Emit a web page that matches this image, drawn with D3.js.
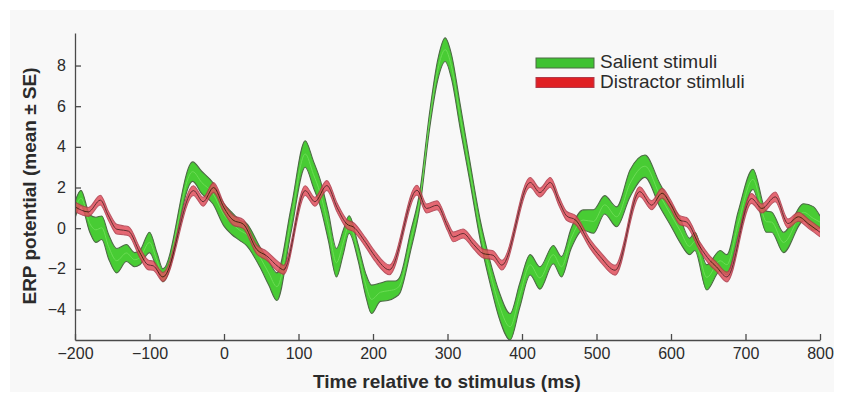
<!DOCTYPE html>
<html>
<head>
<meta charset="utf-8">
<script src="https://cdn.jsdelivr.net/npm/d3@7"></script>
<style>
  body { margin: 0; background: #fff; }
  text { font-family: "Liberation Sans", Arial, sans-serif; fill: #2b2b2b; }
</style>
</head>
<body>
<div id="main"></div>
<script>
// ERP traces (ms, microvolts)
var salientTime = [-200,-192,-180,-172,-164,-155,-144,-131,-120,-113,-100,-90,-82,-42,-30,-15,0,10,21,30,48,60,71,90,109,120,129,140,151,160,168,180,190,198,210,220,230,236,250,263,276,287,297,305,317,330,344,357,370,384,397,411,424,442,453,466,482,496,511,527,545,565,585,600,612,625,632,648,666,675,690,710,728,735,751,778,791,800];
var salientMean = [0.9,1.48,0.22,-0.08,0.02,-0.9,-1.6,-1.22,-1.55,-1.45,-0.7,-1.6,-2.32,2.78,2.25,1.72,0.65,0.25,-0.1,-0.3,-1.4,-2.2,-2.88,0.4,3.65,2.65,1.75,0.1,-1.7,-0.7,0.18,-1.2,-2.75,-3.5,-3.15,-3.08,-3.0,-2.8,-0.72,1.45,5.3,7.8,8.78,8.0,5.5,2.8,-0.1,-2.15,-3.85,-4.85,-3.3,-1.8,-2.45,-1.3,-1.9,-0.5,0.4,0.33,1.15,0.56,2.2,3.05,1.62,0.65,-0.1,-0.9,-0.65,-2.42,-1.6,-1.8,0.2,2.4,0.32,0.3,-0.7,0.78,0.48,0.3];
var salientSE = [0.4,0.38,0.43,0.62,0.58,0.6,0.6,0.42,0.35,0.35,0.5,0.4,0.32,0.48,0.55,0.52,0.55,0.55,0.5,0.55,0.5,0.6,0.68,0.6,0.65,0.65,0.65,0.7,0.7,0.6,0.43,0.4,0.55,0.7,0.45,0.48,0.4,0.4,0.48,0.4,0.4,0.5,0.58,0.6,0.6,0.5,0.5,0.55,0.65,0.65,0.6,0.5,0.55,0.45,0.5,0.5,0.5,0.58,0.45,0.49,0.66,0.55,0.58,0.55,0.6,0.4,0.45,0.62,0.5,0.5,0.6,0.5,0.52,0.5,0.5,0.42,0.58,0.3];

var distractorTime = [-200,-182,-166,-155,-144,-135,-128,-113,-102,-95,-82,-41,-28,-14,0,12,26,44,57,73,80,109,122,138,152,165,174,190,203,222,259,272,286,300,308,321,335,348,361,373,411,424,438,450,460,472,491,505,525,558,574,588,599,612,621,639,652,661,675,708,722,740,757,771,785,800];
var distractorMean = [1.05,0.8,1.38,0.6,-0.05,-0.1,-0.15,-1.2,-1.8,-1.85,-2.4,1.85,1.3,2.0,1.0,0.4,0.2,-1.05,-1.35,-1.9,-2.05,1.85,1.3,2.1,1.0,0.2,0.05,-0.7,-1.4,-2.05,1.87,0.97,1.13,0.1,-0.43,-0.26,-0.8,-1.25,-1.33,-1.82,2.25,1.75,2.25,1.3,0.6,0.4,-0.75,-1.4,-2.07,1.8,1.13,1.72,1.2,0.39,0.3,-0.92,-1.58,-1.9,-2.4,1.46,0.97,1.54,0.23,0.56,0.2,-0.2];
var distractorSE = [0.24,0.22,0.24,0.22,0.24,0.22,0.22,0.24,0.24,0.22,0.22,0.24,0.22,0.24,0.22,0.24,0.22,0.22,0.22,0.24,0.22,0.24,0.22,0.24,0.22,0.22,0.22,0.22,0.24,0.24,0.24,0.22,0.22,0.22,0.24,0.22,0.22,0.22,0.22,0.24,0.24,0.22,0.24,0.22,0.22,0.22,0.22,0.24,0.24,0.24,0.22,0.24,0.22,0.22,0.22,0.22,0.22,0.22,0.24,0.24,0.22,0.24,0.22,0.22,0.22,0.22];

var xTicks = [-200,-100,0,100,200,300,400,500,600,700,800];
var yTicks = [-4,-2,0,2,4,6,8];
var legendLabels = ["Salient stimuli", "Distractor stimluli"];

function transform(x, y) {
  return "translate(" + x + "," + y + ")";
}

// zip the parallel arrays into point objects
function zipSeries(t, m, se) {
  return t.map(function(d, i) { return { t: d, m: m[i], se: se[i] }; });
}

var series = [
  { name: legendLabels[0], pts: zipSeries(salientTime, salientMean, salientSE),
    fill: "#48cc34", edge: "#4d6a45", mid: "#6cdc55", swatch: "#3fc232", opacity: 1 },
  { name: legendLabels[1], pts: zipSeries(distractorTime, distractorMean, distractorSE),
    fill: "#e2505c", edge: "#b03a4a", mid: "#4a0c10", swatch: "#e02024", opacity: 0.85 }
];

var W = 844, H = 401;
var svg = d3.select("#main").append("svg").attr("width", W).attr("height", H);

// faint grey panel like the figure background
svg.append("rect").attr("x", 10).attr("y", 10).attr("width", 824).attr("height", 382)
  .attr("fill", "#f8f8f8");

var x = d3.scaleLinear().domain([-200, 800]).range([75, 820]);
var y = d3.scaleLinear().domain([-5.5, 9.6]).range([340, 33]);

svg.append("clipPath").attr("id", "plotclip")
  .append("rect").attr("x", 75).attr("y", 33).attr("width", 745).attr("height", 307);

var curve = d3.curveMonotoneX;
var band = d3.area().curve(curve)
  .x(function(d) { return x(d.t); })
  .y0(function(d) { return y(d.m - d.se); })
  .y1(function(d) { return y(d.m + d.se); });
var upper = d3.line().curve(curve)
  .x(function(d) { return x(d.t); })
  .y(function(d) { return y(d.m + d.se); });
var lower = d3.line().curve(curve)
  .x(function(d) { return x(d.t); })
  .y(function(d) { return y(d.m - d.se); });
var mean = d3.line().curve(curve)
  .x(function(d) { return x(d.t); })
  .y(function(d) { return y(d.m); });

var plot = svg.append("g").attr("clip-path", "url(#plotclip)");

series.forEach(function(s) {
  var g = plot.append("g").attr("opacity", s.opacity);
  g.append("path").datum(s.pts).attr("d", band).attr("fill", s.fill);
  g.append("path").datum(s.pts).attr("d", upper).attr("fill", "none")
    .attr("stroke", s.edge).attr("stroke-width", 1.1);
  g.append("path").datum(s.pts).attr("d", lower).attr("fill", "none")
    .attr("stroke", s.edge).attr("stroke-width", 1.1);
  g.append("path").datum(s.pts).attr("d", mean).attr("fill", "none")
    .attr("stroke", s.mid).attr("stroke-width", 1);
});

// axes: matlab style, ticks pointing in, no box
var xAxis = d3.axisBottom(x).tickValues(xTicks).tickSizeInner(-6).tickSizeOuter(0).tickPadding(8);
var yAxis = d3.axisLeft(y).tickValues(yTicks).tickSizeInner(-6).tickSizeOuter(0).tickPadding(9);

var gx = svg.append("g").attr("transform", transform(0, 340)).call(xAxis);
var gy = svg.append("g").attr("transform", transform(75, 0)).call(yAxis);

[gx, gy].forEach(function(g) {
  g.selectAll("path, line").attr("stroke", "#4a4a4a").attr("stroke-width", 1.3);
  g.selectAll("text").style("font-size", "16px").attr("fill", "#2b2b2b");
});

svg.append("text")
  .attr("x", 447).attr("y", 388)
  .attr("text-anchor", "middle")
  .style("font-size", "19px").style("font-weight", "bold")
  .text("Time relative to stimulus (ms)");

svg.append("text")
  .attr("transform", transform(36, 186) + " rotate(-90)")
  .attr("text-anchor", "middle")
  .style("font-size", "19px").style("font-weight", "bold")
  .text("ERP potential (mean \u00b1 SE)");

// legend
var legend = svg.append("g").attr("transform", transform(536, 58));
series.forEach(function(s, i) {
  var row = legend.append("g").attr("transform", transform(0, i * 19.5));
  row.append("rect").attr("width", 58).attr("height", 10)
    .attr("fill", s.swatch)
    .attr("stroke", s.edge).attr("stroke-width", 1);
  row.append("text").attr("x", 64).attr("y", 10)
    .style("font-size", "19px")
    .text(s.name);
});
</script>
</body>
</html>
